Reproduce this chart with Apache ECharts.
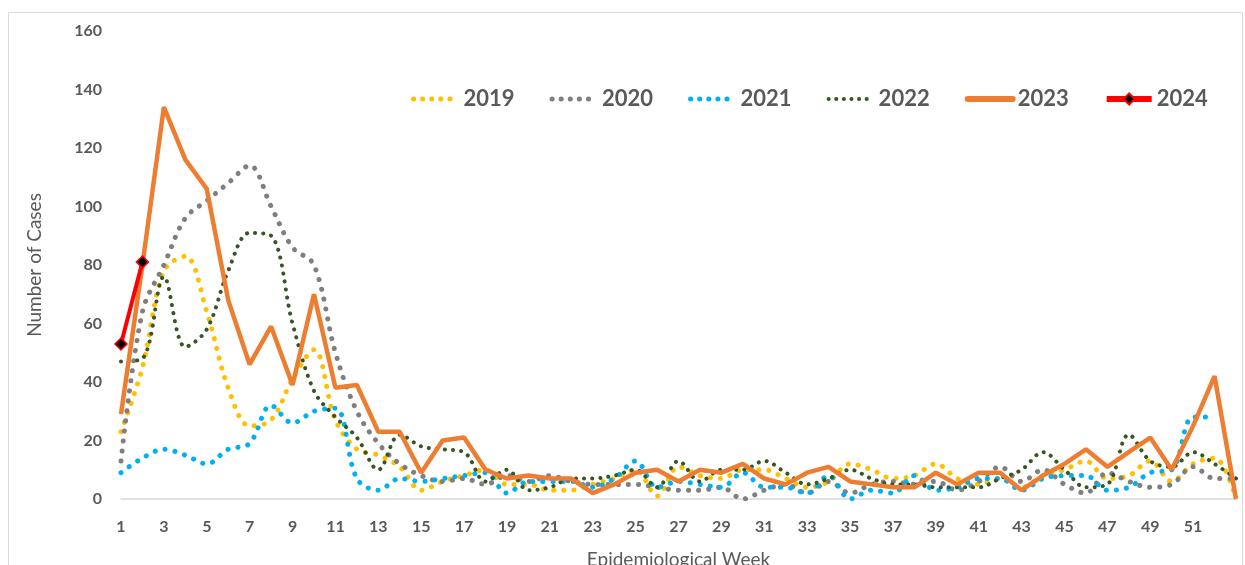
<!DOCTYPE html>
<html>
<head>
<meta charset="utf-8">
<script src="https://cdn.jsdelivr.net/npm/echarts@6/dist/echarts.min.js"></script>
<style>
  html, body { margin: 0; padding: 0; background: #fff; }
  #main { width: 1245px; height: 565px; }
</style>
</head>
<body>
<div id="main"></div>
<script>
// epi weeks 1..53
var weeks = ['1', '2', '3', '4', '5', '6', '7', '8', '9', '10', '11', '12', '13', '14', '15', '16', '17', '18', '19', '20',
    '21', '22', '23', '24', '25', '26', '27', '28', '29', '30', '31', '32', '33', '34', '35', '36', '37', '38', '39', '40',
    '41', '42', '43', '44', '45', '46', '47', '48', '49', '50', '51', '52', '53'];

var years = ['2019', '2020', '2021', '2022', '2023', '2024'];

var cases2019 = [23, 45, 78, 83, 64, 38, 25, 27, 41, 51, 27, 17, 15, 11, 3, 6, 8, 10, 5, 5,
    3, 3, 5, 7, 10, 1, 11, 8, 7, 10, 10, 7, 4, 6, 12, 10, 7, 8, 12, 7,
    5, 7, 4, 8, 10, 13, 7, 8, 13, 6, 12, 14, 0];
var cases2020 = [13, 64, 80, 96, 102, 108, 114, 100, 86, 80, 50, 30, 19, 12, 8, 6, 7, 5, 8, 6,
    8, 6, 5, 5, 5, 4, 3, 3, 4, 0, 3, 5, 2, 6, 2, 5, 6, 5, 6, 3,
    6, 11, 6, 10, 5, 2, 9, 6, 4, 5, 11, 7, 7];
var cases2021 = [9, 14, 17, 15, 12, 17, 19, 32, 26, 30, 31, 7, 3, 7, 6, 7, 8, 9, 2, 6,
    6, 6, 4, 7, 13, 4, 6, 5, 4, 9, 4, 4, 2, 8, 0, 3, 2, 8, 3, 4,
    7, 7, 3, 7, 8, 8, 3, 4, 9, 10, 28, 28, '-'];
var cases2022 = [47, 48, 76, 52, 58, 78, 91, 90, 60, 37, 28, 21, 10, 22, 18, 17, 16, 6, 10, 3,
    4, 7, 7, 8, 10, 4, 13, 6, 10, 10, 13, 9, 5, 7, 10, 7, 5, 5, 4, 4,
    4, 7, 10, 16, 10, 4, 5, 22, 13, 11, 16, 12, 7];
var cases2023 = [29, 80, 134, 116, 106, 68, 46, 59, 39, 70, 38, 39, 23, 23, 9, 20, 21, 10, 7, 8,
    7, 7, 2, 5, 9, 10, 6, 10, 9, 12, 7, 5, 9, 11, 6, 5, 4, 4, 9, 5,
    9, 9, 3, 8, 12, 17, 11, 16, 21, 10, 25, 42, 0];
var cases2024 = [53, 81];

var colors = ['#FFC000', '#7F7F7F', '#00B0F0', '#375623', '#ED7D31', '#FF0000'];
var txt = '#595959';
var font = 'Lato, "Open Sans", sans-serif';

function dotted(name, data, color, size, gap) {
    return {
        name: name,
        type: 'line',
        data: data,
        smooth: 0.35,
        symbol: 'none',
        lineStyle: {color: color, width: size, type: [0.1, gap], cap: 'round'},
        itemStyle: {color: color},
        z: 2
    };
}

// legend: no marker for lines except 2024, thicker strokes
var legendData = [
    {name: '2019', itemStyle: {opacity: 0}, lineStyle: {width: 5, type: [0.1, 9], cap: 'round'}},
    {name: '2020', itemStyle: {opacity: 0}, lineStyle: {width: 5, type: [0.1, 9], cap: 'round'}},
    {name: '2021', itemStyle: {opacity: 0}, lineStyle: {width: 5, type: [0.1, 9], cap: 'round'}},
    {name: '2022', itemStyle: {opacity: 0}, lineStyle: {width: 4, type: [0.1, 7.5], cap: 'round'}},
    {name: '2023', itemStyle: {opacity: 0}, lineStyle: {width: 6, cap: 'round'}},
    {name: '2024', lineStyle: {width: 6}}
];

var mChart = echarts.init(document.getElementById('main'));
var option = {
    animation: false,
    backgroundColor: '#fff',
    textStyle: {fontFamily: font},
    graphic: [{
        type: 'rect',
        shape: {x: 8.5, y: 12.5, width: 1234, height: 560},
        style: {fill: 'none', stroke: '#D9D9D9', lineWidth: 1},
        silent: true
    }],
    grid: {left: 121, right: 9, top: 31, bottom: 66, outerBoundsMode: 'none'},
    legend: {
        data: legendData,
        left: 406,
        top: 83,
        itemWidth: 45,
        itemHeight: 14,
        itemGap: 35,
        textStyle: {fontSize: 22, fontWeight: 'bold', color: txt, fontFamily: font}
    },
    xAxis: {
        type: 'category',
        data: weeks,
        boundaryGap: false,
        name: 'Epidemiological Week',
        nameLocation: 'middle',
        nameGap: 51,
        nameTextStyle: {fontSize: 19, color: txt, fontFamily: font},
        axisLine: {lineStyle: {color: '#D9D9D9', width: 1.5}},
        axisTick: {show: false},
        axisLabel: {interval: 1, showMaxLabel: false, margin: 20, fontSize: 16, fontWeight: 'bold', color: txt, fontFamily: font},
        splitLine: {show: false}
    },
    yAxis: {
        type: 'value',
        min: 0,
        max: 160,
        interval: 20,
        name: 'Number of Cases',
        nameLocation: 'middle',
        nameGap: 77,
        nameTextStyle: {fontSize: 19, color: txt, fontFamily: font},
        axisLine: {show: false},
        axisTick: {show: false},
        axisLabel: {margin: 19, fontSize: 16, fontWeight: 'bold', color: txt, fontFamily: font},
        splitLine: {show: false}
    },
    series: [
        dotted('2019', cases2019, colors[0], 5, 10),
        dotted('2020', cases2020, colors[1], 5, 10),
        dotted('2021', cases2021, colors[2], 5, 10),
        dotted('2022', cases2022, colors[3], 4, 8),
        {
            name: '2023',
            type: 'line',
            data: cases2023,
            symbol: 'none',
            lineStyle: {color: colors[4], width: 4.5},
            itemStyle: {color: colors[4]},
            z: 3
        },
        {
            name: '2024',
            type: 'line',
            data: cases2024,
            symbol: 'diamond',
            symbolSize: 12,
            showSymbol: true,
            lineStyle: {color: colors[5], width: 4},
            itemStyle: {color: '#000', borderColor: colors[5], borderWidth: 1.5},
            z: 4
        }
    ]
};
mChart.setOption(option);
</script>
</body>
</html>
